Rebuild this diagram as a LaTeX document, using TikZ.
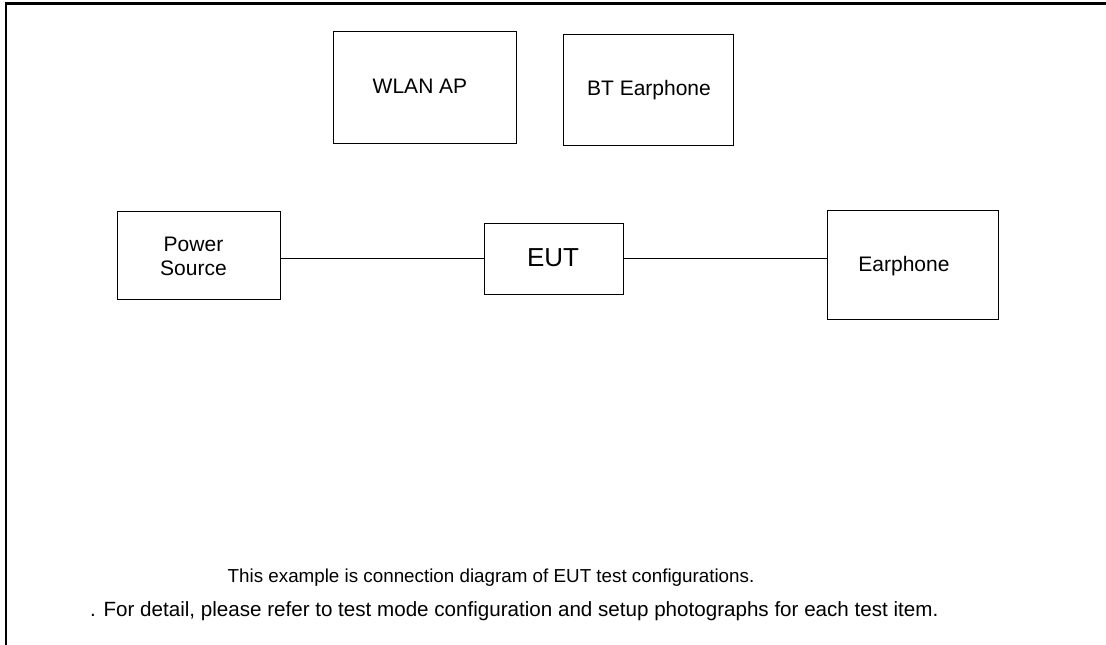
\documentclass[tikz,border=0pt]{standalone}
\usepackage{fontspec}
\setmainfont{Liberation Sans}
\begin{document}
\begin{tikzpicture}[x=1pt,y=-1pt,
  box/.style={draw=black,line width=1pt,inner sep=0pt,fill=none},
  lbl/.style={inner sep=0pt,align=center,font=\fontsize{21}{24}\selectfont},
  wire/.style={draw=black,line width=1pt},
  frame/.style={draw=black,line width=2.2pt}]
\useasboundingbox (0,0) rectangle (1106,645);
% frame (top and left edges)
\coordinate (ftl) at (6,3.5);
\coordinate (ftr) at (1106,3.5);
\coordinate (fbl) at (6,645);
\draw[frame] (ftr) -- (ftl) -- (fbl);
% boxes
\node[box,minimum width=183pt,minimum height=112pt] (wlan) at (424.5,87) {};
\node[box,minimum width=170pt,minimum height=111pt] (bt) at (648,89.5) {};
\node[box,minimum width=163pt,minimum height=88pt] (ps) at (198.5,255) {};
\node[box,minimum width=139pt,minimum height=71pt] (eut) at (553.5,258.5) {};
\node[box,minimum width=171pt,minimum height=109pt] (ep) at (912.5,264.5) {};
% texts
\node[lbl] (twlan) at (420,86) {WLAN AP};
\node[lbl] (tbt) at (649,90) {BT Earphone};
\node[lbl] (tps) at (193.5,256.5) {Power\\Source};
\node[lbl,font=\fontsize{26}{30}\selectfont] (teut) at (553,257.5) {EUT};
\node[lbl] (tep) at (904,266) {Earphone};
% connectors
\draw[wire] (ps.east |- eut.west) -- (eut.west);
\draw[wire] (eut.east) -- (eut.east -| ep.west);
% notes
\node[inner sep=0pt,anchor=base,font=\fontsize{18.8}{22}\selectfont] (note1) at (491,582) {This example is connection diagram of EUT test configurations.};
\node[inner sep=0pt,anchor=base west,font=\fontsize{20.6}{24}\selectfont] (note2) at (90,616) {. For detail, please refer to test mode configuration and setup photographs for each test item.};
\end{tikzpicture}
\end{document}
